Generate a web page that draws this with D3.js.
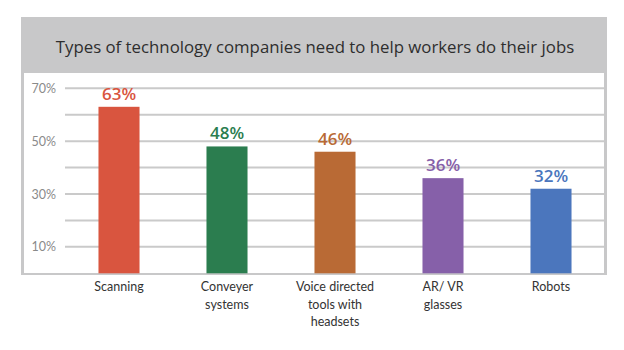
<!DOCTYPE html>
<html><head><meta charset="utf-8">
<script src="https://cdn.jsdelivr.net/npm/d3@7"></script>
<style>body{margin:0;background:#fff;} text{font-family:Lato,"Open Sans",sans-serif;}</style>
</head><body>
<svg id="c" width="624" height="350"></svg>
<script>
const categories = [["Scanning"],["Conveyer","systems"],["Voice directed","tools with","headsets"],["AR/ VR","glasses"],["Robots"]];
const values = [63, 48, 46, 36, 32];
const colors = ["#d9553f", "#2b7d4f", "#b96a35", "#8660a9", "#4b76bd"];
const gridTicks = [10, 20, 30, 40, 50, 60, 70];
const labelTicks = [10, 30, 50, 70];
const title = "Types of technology companies need to help workers do their jobs";

const svg = d3.select("#c");
svg.append("rect").attr("x",21).attr("y",17).attr("width",586).attr("height",258).attr("fill","#c8c8c9");
svg.append("rect").attr("x",24).attr("y",73).attr("width",580).attr("height",200).attr("fill","#fff");
svg.append("text").attr("x",315).attr("y",53).attr("text-anchor","middle")
  .style("font-family","'Open Sans',sans-serif")
  .attr("font-size",16.8).attr("fill","#2e2e2e").text(title);

const y = d3.scaleLinear().domain([0,70]).range([273.3, 88.3]);
const x = d3.scaleBand().domain(d3.range(values.length)).range([65, 605]).paddingInner(0.62).paddingOuter(0.31);

svg.append("g").selectAll("line").data(gridTicks).join("line")
  .attr("x1",65).attr("x2",604).attr("y1",d=>y(d)).attr("y2",d=>y(d))
  .attr("stroke","#cacaca").attr("stroke-width",2);

svg.append("g").selectAll("text").data(labelTicks).join("text")
  .attr("x",56).attr("y",d=>y(d)+4.5).attr("text-anchor","end")
  .attr("font-size",12.5).attr("fill","#8a8a8a").text(d=>d+"%");

svg.append("g").selectAll("rect").data(values).join("rect")
  .attr("x",(d,i)=>x(i)).attr("width",x.bandwidth())
  .attr("y",d=>y(d)).attr("height",d=>y(0)-y(d)).attr("fill",(d,i)=>colors[i]);

svg.append("g").selectAll("text").data(values).join("text")
  .attr("x",(d,i)=>x(i)+x.bandwidth()/2).attr("y",d=>y(d)-7)
  .attr("text-anchor","middle").attr("font-size",17).attr("font-weight",600)
  .style("font-family","'Open Sans',sans-serif")
  .attr("fill",(d,i)=>colors[i]).text(d=>d+"%");

const xl = svg.append("g").selectAll("text").data(categories).join("text")
  .attr("x",(d,i)=>x(i)+x.bandwidth()/2).attr("y",291)
  .attr("text-anchor","middle").attr("font-size",12.5).attr("fill","#333");
xl.each(function(d,i){
  const t=d3.select(this);
  d.forEach((line,j)=>t.append("tspan").attr("x",x(i)+x.bandwidth()/2).attr("dy",j?17.5:0).text(line));
});
</script>
</body></html>
